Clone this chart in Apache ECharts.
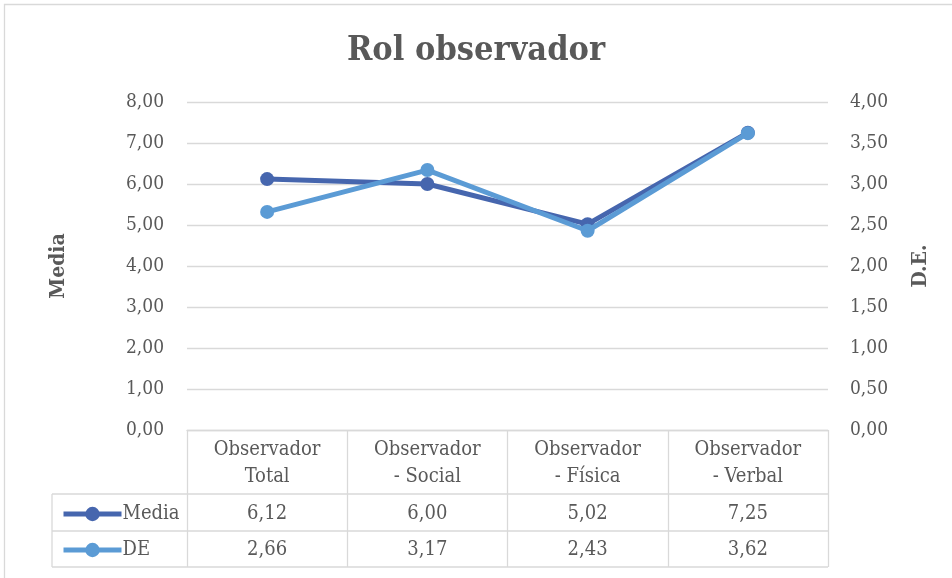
<!DOCTYPE html>
<html>
<head>
<meta charset="utf-8">
<title>Rol observador</title>
<script src="https://cdn.jsdelivr.net/npm/echarts@6/dist/echarts.min.js"></script>
<style>
  html, body { margin: 0; padding: 0; background: #fff; }
  #chart { width: 952px; height: 578px; }
</style>
</head>
<body>
<div id="chart"></div>
<script>
var categorias = ['Observador\nTotal', 'Observador\n- Social', 'Observador\n- Física', 'Observador\n- Verbal'];
var media = [6.12, 6.00, 5.02, 7.25];
var de = [2.66, 3.17, 2.43, 3.62];

var FONT = '"DejaVu Serif Condensed", "DejaVu Serif", serif';
var GRIS = '#595959';
var LINEA = '#d9d9d9';
var colores = ['#4666ae', '#5b9bd5'];

// plot area
var gLeft = 187, gRight = 828, gTop = 102, gBottom = 430;
var filas = [494, 531, 567];
var tablaIzq = 52;

function coma(v, d) {
  return v.toFixed(d).replace('.', ',');
}

var chart = echarts.init(document.getElementById('chart'));

var lineas = filas.map(function (y) {
  return {
    type: 'line',
    shape: { x1: tablaIzq, y1: y, x2: gRight, y2: y },
    style: { stroke: LINEA, lineWidth: 1.3 }
  };
});
lineas.push({
  type: 'line',
  shape: { x1: tablaIzq, y1: filas[0], x2: tablaIzq, y2: filas[2] },
  style: { stroke: LINEA, lineWidth: 1.3 }
});
lineas.push({
  type: 'rect',
  shape: { x: 4.5, y: 4.5, width: 1000, height: 1000 },
  style: { fill: 'none', stroke: LINEA, lineWidth: 1.3 }
});

var option = {
  animation: false,
  backgroundColor: '#fff',
  color: colores,
  title: {
    text: 'Rol observador',
    left: 'center',
    top: 29,
    textStyle: { fontFamily: FONT, fontSize: 34, fontWeight: 'bold', color: GRIS }
  },
  legend: {
    orient: 'vertical',
    left: 56,
    top: 499,
    itemWidth: 58,
    itemHeight: 18,
    itemGap: 16,
    lineStyle: { width: 5 },
    textStyle: { fontFamily: FONT, fontSize: 20, color: GRIS, padding: [0, 0, 0, -4] },
    data: ['Media', 'DE']
  },
  grid: {
    left: gLeft,
    right: 952 - gRight,
    top: gTop,
    bottom: 578 - gBottom
  },
  xAxis: [
    {
      type: 'category',
      data: categorias,
      boundaryGap: true,
      axisLine: { lineStyle: { color: LINEA, width: 1.3 } },
      axisTick: { show: true, length: filas[2] - gBottom, lineStyle: { color: LINEA, width: 1.3 } },
      axisLabel: { fontFamily: FONT, fontSize: 20, color: GRIS, lineHeight: 27, margin: 6, interval: 0 }
    },
    {
      type: 'category',
      data: media.map(function (v) { return coma(v, 2); }),
      position: 'bottom',
      offset: filas[0] - gBottom,
      axisLine: { show: false },
      axisTick: { show: false },
      axisLabel: { fontFamily: FONT, fontSize: 20, color: GRIS, lineHeight: 36, margin: 2, interval: 0 }
    },
    {
      type: 'category',
      data: de.map(function (v) { return coma(v, 2); }),
      position: 'bottom',
      offset: filas[1] - gBottom,
      axisLine: { show: false },
      axisTick: { show: false },
      axisLabel: { fontFamily: FONT, fontSize: 20, color: GRIS, lineHeight: 36, margin: 1, interval: 0 }
    }
  ],
  yAxis: [
    {
      type: 'value',
      min: 0,
      max: 8,
      interval: 1,
      name: 'Media',
      nameLocation: 'middle',
      nameRotate: 90,
      nameGap: 118,
      nameTextStyle: { fontFamily: FONT, fontSize: 21, fontWeight: 'bold', color: GRIS },
      axisLine: { show: false },
      axisTick: { show: false },
      axisLabel: { fontFamily: FONT, fontSize: 19, color: GRIS, margin: 23, formatter: function (v) { return coma(v, 2); } },
      splitLine: { lineStyle: { color: LINEA, width: 1.3 } }
    },
    {
      type: 'value',
      min: 0,
      max: 4,
      interval: 0.5,
      name: 'D.E.',
      nameLocation: 'middle',
      nameRotate: 90,
      nameGap: 82,
      nameTextStyle: { fontFamily: FONT, fontSize: 21, fontWeight: 'bold', color: GRIS },
      axisLine: { show: false },
      axisTick: { show: false },
      axisLabel: { fontFamily: FONT, fontSize: 19, color: GRIS, margin: 22, formatter: function (v) { return coma(v, 2); } },
      splitLine: { show: false }
    }
  ],
  series: [
    {
      name: 'Media',
      type: 'line',
      data: media,
      yAxisIndex: 0,
      symbol: 'circle',
      symbolSize: 14,
      lineStyle: { width: 5 },
      z: 3
    },
    {
      name: 'DE',
      type: 'line',
      data: de,
      yAxisIndex: 1,
      symbol: 'circle',
      symbolSize: 14,
      lineStyle: { width: 5 },
      z: 4
    }
  ],
  graphic: lineas
};

chart.setOption(option);
</script>
</body>
</html>
